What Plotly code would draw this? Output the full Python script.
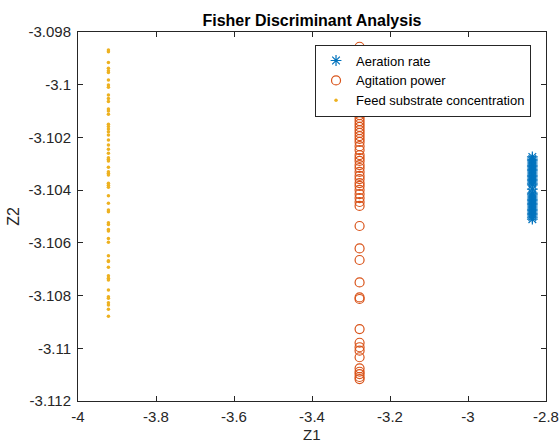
import plotly.graph_objects as go

# Z1 positions of each class
aeration_z1 = -2.835
agitation_z1 = -3.278
feed_z1 = -3.922

aeration_z2 = [-3.10274, -3.10282, -3.10289, -3.10297, -3.10305, -3.10312, -3.10320,
               -3.10327, -3.10335, -3.10343, -3.10350, -3.10358, -3.10365, -3.10373,
               -3.10380, -3.10396, -3.10411, -3.10418, -3.10426, -3.10434, -3.10441,
               -3.10449, -3.10456, -3.10464, -3.10472, -3.10479, -3.10487, -3.10494,
               -3.10502, -3.10510]

agitation_z2 = [-3.09856, -3.10047, -3.10058, -3.10069, -3.10081, -3.10092, -3.10104,
                -3.10115, -3.10126, -3.10138, -3.10149, -3.10160, -3.10172, -3.10183,
                -3.10195, -3.10206, -3.10217, -3.10233, -3.10248, -3.10267, -3.10278,
                -3.10289, -3.10305, -3.10316, -3.10331, -3.10346, -3.10358, -3.10373,
                -3.10384, -3.10399, -3.10415, -3.10430, -3.10445, -3.10460, -3.10536,
                -3.10621, -3.10665, -3.10750, -3.10807, -3.10813, -3.10927, -3.10979,
                -3.10996, -3.11009, -3.11034, -3.11076, -3.11089, -3.11098, -3.11109,
                -3.11117]

feed_z2 = [-3.09868, -3.09875, -3.09916, -3.09938, -3.09947, -3.09954, -3.09982,
           -3.10001, -3.10010, -3.10039, -3.10052, -3.10064, -3.10092, -3.10100,
           -3.10112, -3.10150, -3.10159, -3.10168, -3.10178, -3.10191, -3.10210,
           -3.10229, -3.10245, -3.10260, -3.10277, -3.10283, -3.10289, -3.10313,
           -3.10330, -3.10336, -3.10343, -3.10374, -3.10381, -3.10389, -3.10421,
           -3.10450, -3.10475, -3.10482, -3.10524, -3.10530, -3.10549, -3.10555,
           -3.10583, -3.10598, -3.10649, -3.10668, -3.10671, -3.10693, -3.10725,
           -3.10734, -3.10741, -3.10779, -3.10804, -3.10810, -3.10827, -3.10836,
           -3.10852, -3.10878]

x_ticks = [-4, -3.8, -3.6, -3.4, -3.2, -3, -2.8]
x_tick_labels = ["-4", "-3.8", "-3.6", "-3.4", "-3.2", "-3", "-2.8"]
y_ticks = [-3.112, -3.11, -3.108, -3.106, -3.104, -3.102, -3.1, -3.098]
y_tick_labels = ["-3.112", "-3.11", "-3.108", "-3.106", "-3.104", "-3.102", "-3.1", "-3.098"]

FONT = "Liberation Sans, Arial, sans-serif"
AX = "#262626"

fig = go.Figure()
fig.add_trace(go.Scatter(
    x=[aeration_z1] * len(aeration_z2), y=aeration_z2, mode="markers",
    name="Aeration rate",
    marker=dict(symbol="asterisk-open", size=9, color="#0072BD",
                line=dict(color="#0072BD", width=1.2))))
fig.add_trace(go.Scatter(
    x=[agitation_z1] * len(agitation_z2), y=agitation_z2, mode="markers",
    name="Agitation power",
    marker=dict(symbol="circle-open", size=9, color="#D95319",
                line=dict(color="#D95319", width=1.2))))
fig.add_trace(go.Scatter(
    x=[feed_z1] * len(feed_z2), y=feed_z2, mode="markers",
    name="Feed substrate concentration",
    marker=dict(symbol="circle", size=3.5, color="#EDB120")))

axis_common = dict(
    showgrid=False, zeroline=False, showline=True, linecolor=AX, linewidth=1,
    mirror="ticks", ticks="inside", ticklen=5, tickcolor=AX, tickwidth=1,
    tickfont=dict(family=FONT, size=15, color=AX), automargin=False,
)

fig.update_layout(
    width=559, height=443,
    margin=dict(l=78, r=13, t=32, b=42),
    paper_bgcolor="white", plot_bgcolor="white",
    title=dict(text="<b>Fisher Discriminant Analysis</b>", x=0.5, xanchor="center",
               xref="paper", y=1 - 20 / 443, yanchor="middle",
               font=dict(family=FONT, size=16, color="black")),
    xaxis=dict(range=[-4, -2.8], tickvals=x_ticks, ticktext=x_tick_labels,
               ticklabelstandoff=2, **axis_common),
    yaxis=dict(range=[-3.112, -3.098], tickvals=y_ticks, ticktext=y_tick_labels,
               ticklabelstandoff=3,
               title=dict(text="Z2", font=dict(family=FONT, size=16, color=AX), standoff=4),
               **axis_common),
    legend=dict(x=0.968, y=0.966, xanchor="right", yanchor="top",
                bgcolor="white", bordercolor=AX, borderwidth=1,
                font=dict(family=FONT, size=13, color="black"),
                tracegroupgap=0, itemsizing="trace"),
    showlegend=True,
)
fig.add_annotation(text="Z1", xref="paper", yref="paper", x=0.5, y=-(434 - 401) / 369,
                   xanchor="center", yanchor="middle", showarrow=False,
                   font=dict(family=FONT, size=15, color=AX))

fig.write_html("out.html")
